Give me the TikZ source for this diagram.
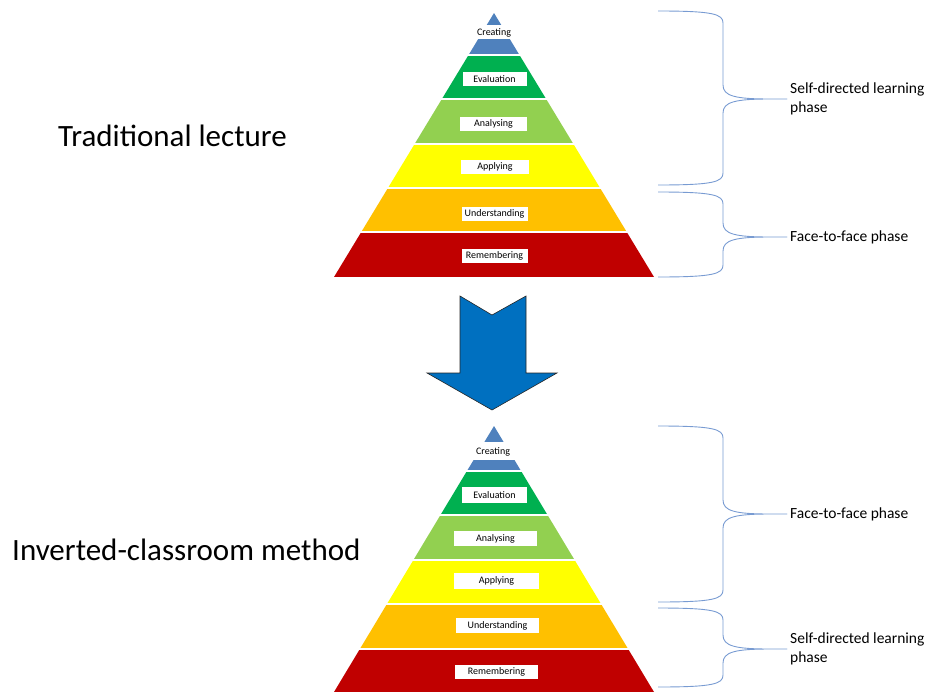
\documentclass[tikz,border=0pt]{standalone}
\usepackage{fontspec}
\setmainfont{Carlito}
\definecolor{tipblue}{HTML}{4F81BD}
\definecolor{dkgreen}{HTML}{00B050}
\definecolor{ltgreen}{HTML}{92D050}
\definecolor{lvlyellow}{HTML}{FFFF00}
\definecolor{lvlorange}{HTML}{FFC000}
\definecolor{lvlred}{HTML}{C00000}
\definecolor{arrowblue}{HTML}{0070C0}
\definecolor{bracecol}{RGB}{120,155,210}
% curly brace from y=#1 to y=#3, tip at y=#2 ending at node #4
\newcommand{\phasebrace}[4]{%
  \draw[brace] (658,#1) .. controls (713,#1) and (723,#1+3) .. (723,#1+12)
    -- (723,#2-14) .. controls (723,#2-3) and (735,#2) .. (770,#2) -- (#4.west)
    -- (770,#2) .. controls (735,#2) and (723,#2+3) .. (723,#2+14)
    -- (723,#3-12) .. controls (723,#3-3) and (713,#3) .. (658,#3);}
\begin{document}
\begin{tikzpicture}[x=1pt,y=-1pt,
    lvl/.style={fill=white,inner sep=0pt,minimum height=14,minimum width=#1,
      font=\fontsize{10}{12}\selectfont},
    phase/.style={anchor=west,inner sep=3pt,align=left,font=\fontsize{15.5}{19}\selectfont},
    title/.style={anchor=base west,inner sep=0pt,font=\fontsize{31}{37}\selectfont},
    brace/.style={draw=bracecol,line width=0.9pt,line join=round}]
\useasboundingbox (0,0) rectangle (933,693);

% top pyramid
\begin{scope}
  \clip (494,13) -- (334,277) -- (654,277) -- cycle;
  \fill[tipblue] (330,13) rectangle (660,25);
  \fill[tipblue] (330,39) rectangle (660,54);
  \fill[dkgreen] (330,56) rectangle (660,98);
  \fill[ltgreen] (330,100) rectangle (660,143);
  \fill[lvlyellow] (330,145) rectangle (660,187);
  \fill[lvlorange] (330,189) rectangle (660,231);
  \fill[lvlred] (330,233) rectangle (660,277);
\end{scope}
\node[font=\fontsize{10}{12}\selectfont] (cre1) at (494,33) {Creating};
\node[lvl=64] (eva1) at (494.5,79) {Evaluation};
\node[lvl=67] (ana1) at (493.5,124) {Analysing};
\node[lvl=68] (app1) at (495,166.5) {Applying};
\node[lvl=66] (und1) at (494.5,213.5) {Understanding};
\node[lvl=66] (rem1) at (494.5,255.5) {Remembering};
\node[title] (trad) at (58,146) {Traditional lecture};

% phases of the lecture
\node[phase] (self1) at (787,99) {Self-directed learning\\phase};
\node[phase] (face1) at (787,237) {Face-to-face phase};
\phasebrace{11}{99}{185}{self1}
\phasebrace{192}{237}{277}{face1}

% arrow
\filldraw[fill=arrowblue,draw=black!85,line width=0.6pt] (460,296) -- (492,315) -- (526,296)
  -- (526,373) -- (557,373) -- (492,410) -- (427,373) -- (460,373) -- cycle;

% bottom pyramid
\begin{scope}
  \clip (494,426) -- (334,692) -- (654,692) -- cycle;
  \fill[tipblue] (330,426) rectangle (660,442);
  \fill[tipblue] (330,460) rectangle (660,470);
  \fill[dkgreen] (330,472) rectangle (660,514);
  \fill[ltgreen] (330,516) rectangle (660,559);
  \fill[lvlyellow] (330,561) rectangle (660,603);
  \fill[lvlorange] (330,605) rectangle (660,648);
  \fill[lvlred] (330,650) rectangle (660,692);
\end{scope}
\node[font=\fontsize{10}{12}\selectfont] (cre2) at (493,452) {Creating};
\node[lvl=65,minimum height=16] (eva2) at (494.5,495) {Evaluation};
\node[lvl=83,minimum height=15] (ana2) at (495.5,538.5) {Analysing};
\node[lvl=85,minimum height=16] (app2) at (496.5,581) {Applying};
\node[lvl=83,minimum height=15] (und2) at (497.5,625.5) {Understanding};
\node[lvl=83] (rem2) at (496.5,672) {Remembering};
\node[title] (inv) at (12,560) {Inverted-classroom method};

% phases of the inverted classroom
\node[phase] (face2) at (787,514) {Face-to-face phase};
\node[phase] (self2) at (787,649) {Self-directed learning\\phase};
\phasebrace{426}{514}{602}{face2}
\phasebrace{608}{649}{687}{self2}
\end{tikzpicture}
\end{document}
